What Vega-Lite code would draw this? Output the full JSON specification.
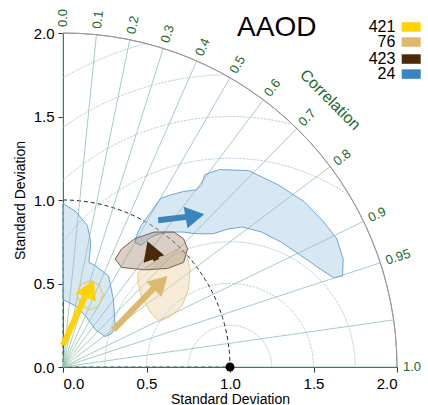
{
"$schema":"https://vega.github.io/schema/vega-lite/v6.json",
"width":334,"height":334,
"autosize":{"type":"none"},
"padding":{"left":63,"top":33,"right":31,"bottom":38},
"config":{"view":{"stroke":null},"font":"Liberation Sans","axis":{"zindex":1,"labelFontSize":15,"titleFontSize":14,"titleFontWeight":"normal","labelColor":"black","titleColor":"black","domainColor":"#333","tickColor":"#333","grid":false,"labelFont":"Liberation Sans","titleFont":"Liberation Sans"}},
"datasets":{
"blue1":[{"i":0,"x":0.468,"y":0.848},{"i":1,"x":0.527,"y":0.929},{"i":2,"x":0.585,"y":1.010},{"i":3,"x":0.644,"y":1.030},{"i":4,"x":0.722,"y":1.051},{"i":5,"x":0.800,"y":1.061},{"i":6,"x":0.829,"y":1.091},{"i":7,"x":0.849,"y":1.152},{"i":8,"x":0.937,"y":1.182},{"i":9,"x":1.112,"y":1.176},{"i":10,"x":1.288,"y":1.091},{"i":11,"x":1.444,"y":0.990},{"i":12,"x":1.561,"y":0.869},{"i":13,"x":1.639,"y":0.768},{"i":14,"x":1.678,"y":0.646},{"i":15,"x":1.674,"y":0.545},{"i":16,"x":1.620,"y":0.535},{"i":17,"x":1.542,"y":0.586},{"i":18,"x":1.425,"y":0.667},{"i":19,"x":1.308,"y":0.747},{"i":20,"x":1.190,"y":0.808},{"i":21,"x":1.073,"y":0.838},{"i":22,"x":0.995,"y":0.828},{"i":23,"x":0.898,"y":0.798},{"i":24,"x":0.800,"y":0.798},{"i":25,"x":0.722,"y":0.808},{"i":26,"x":0.605,"y":0.808},{"i":27,"x":0.527,"y":0.778},{"i":28,"x":0.468,"y":0.727},{"i":29,"x":0.429,"y":0.747},{"i":30,"x":0.449,"y":0.808}],
"blue2":[{"i":0,"x":0,"y":0.980},{"i":1,"x":0.078,"y":0.929},{"i":2,"x":0.146,"y":0.848},{"i":3,"x":0.166,"y":0.747},{"i":4,"x":0.156,"y":0.626},{"i":5,"x":0.195,"y":0.606},{"i":6,"x":0.273,"y":0.545},{"i":7,"x":0.302,"y":0.404},{"i":8,"x":0.312,"y":0.242},{"i":9,"x":0.293,"y":0.202},{"i":10,"x":0.254,"y":0.182},{"i":11,"x":0.195,"y":0.222},{"i":12,"x":0.137,"y":0.303},{"i":13,"x":0.078,"y":0.364},{"i":14,"x":0,"y":0.404}],
"brown":[{"i":0,"x":0.312,"y":0.646},{"i":1,"x":0.351,"y":0.707},{"i":2,"x":0.429,"y":0.768},{"i":3,"x":0.546,"y":0.808},{"i":4,"x":0.664,"y":0.808},{"i":5,"x":0.722,"y":0.768},{"i":6,"x":0.746,"y":0.707},{"i":7,"x":0.722,"y":0.626},{"i":8,"x":0.625,"y":0.590},{"i":9,"x":0.488,"y":0.582},{"i":10,"x":0.351,"y":0.596}],
"tan":[{"i":0,"x":0.449,"y":0.566},{"i":1,"x":0.546,"y":0.626},{"i":2,"x":0.683,"y":0.707},{"i":3,"x":0.742,"y":0.667},{"i":4,"x":0.761,"y":0.586},{"i":5,"x":0.751,"y":0.465},{"i":6,"x":0.712,"y":0.364},{"i":7,"x":0.644,"y":0.303},{"i":8,"x":0.576,"y":0.273},{"i":9,"x":0.527,"y":0.323},{"i":10,"x":0.468,"y":0.424},{"i":11,"x":0.449,"y":0.505}],
"yellow":[{"i":0,"x":0.082,"y":0.434},{"i":1,"x":0.107,"y":0.495},{"i":2,"x":0.160,"y":0.515},{"i":3,"x":0.215,"y":0.495},{"i":4,"x":0.240,"y":0.434},{"i":5,"x":0.215,"y":0.364},{"i":6,"x":0.160,"y":0.343},{"i":7,"x":0.107,"y":0.374}],
"corr":[{"r":"0.0","x0":0,"y0":0,"x":0,"y":2,"a":-90},{"r":"0.1","x0":0,"y0":0,"x":0.2,"y":1.990,"a":-84},{"r":"0.2","x0":0,"y0":0,"x":0.4,"y":1.960,"a":-78},{"r":"0.3","x0":0,"y0":0,"x":0.6,"y":1.908,"a":-73},{"r":"0.4","x0":0,"y0":0,"x":0.8,"y":1.833,"a":-66},{"r":"0.5","x0":0,"y0":0,"x":1.0,"y":1.732,"a":-60},{"r":"0.6","x0":0,"y0":0,"x":1.2,"y":1.6,"a":-53},{"r":"0.7","x0":0,"y0":0,"x":1.4,"y":1.428,"a":-46},{"r":"0.8","x0":0,"y0":0,"x":1.6,"y":1.2,"a":-37},{"r":"0.9","x0":0,"y0":0,"x":1.8,"y":0.872,"a":-26},{"r":"0.95","x0":0,"y0":0,"x":1.9,"y":0.624,"a":-18},{"r":"0.99","x0":0,"y0":0,"x":1.98,"y":0.282,"a":-8},{"r":"1.0","x0":0,"y0":0,"x":2,"y":0,"a":0}],
"rms":[{"r":0.25,"t1":-1.5708,"t2":1.5708},{"r":0.5,"t1":-1.5708,"t2":1.5708},{"r":0.75,"t1":-1.5708,"t2":1.5708},{"r":1.25,"t1":-0.927,"t2":0.613},{"r":1.5,"t1":-0.730,"t2":0.253},{"r":1.75,"t1":-0.609,"t2":-0.018},{"r":2.0,"t1":-0.524,"t2":-0.253}],
"arrows":[{"c":"#FFD200","x":0,"y":0.131,"o":0},{"c":"#FFD200","x":0.150,"y":0.463,"o":1},{"c":"#DDB96E","x":0.302,"y":0.222,"o":0},{"c":"#DDB96E","x":0.575,"y":0.505,"o":1},{"c":"#4A2A08","x":0.56,"y":0.64,"o":0},{"c":"#4A2A08","x":0.532,"y":0.70,"o":1},{"c":"#3A85C0","x":0.570,"y":0.879,"o":0},{"c":"#3A85C0","x":0.790,"y":0.905,"o":1}],
"heads":[{"c":"#FFD200","x":0.160,"y":0.47,"a":25},{"c":"#DDB96E","x":0.585,"y":0.505,"a":45},{"c":"#4A2A08","x":0.525,"y":0.70,"a":-20},{"c":"#3A85C0","x":0.79,"y":0.905,"a":80}],
"legend":[{"k":"421","c":"#FFD200","y":2.036},{"k":"76","c":"#DDB96E","y":1.946},{"k":"423","c":"#4A2A08","y":1.844},{"k":"24","c":"#3A85C0","y":1.754}]
},
"layer":[
{"data":{"name":"rms"},"mark":{"type":"arc","filled":false,"stroke":"#a9bfd6","strokeWidth":1,"strokeDash":[1,2.5]},
 "encoding":{"x":{"datum":1,"type":"quantitative","scale":{"domain":[0,2],"nice":false,"zero":false},"axis":{"values":[0,0.5,1,1.5,2],"format":".1f","title":"Standard Deviation","titlePadding":1,"labelPadding":4,"tickSize":5}},
 "y":{"datum":0,"type":"quantitative","scale":{"domain":[0,2],"nice":false,"zero":false},"axis":{"values":[0,0.5,1,1.5,2],"format":".1f","title":"Standard Deviation","titlePadding":6,"labelPadding":4,"tickSize":5}},
 "radius":{"field":"r","type":"quantitative","scale":{"type":"linear","domain":[0,2],"range":[0,334],"zero":true}},
 "radius2":{"field":"r"},
 "theta":{"field":"t1","type":"quantitative","scale":null},"theta2":{"field":"t2"}}},
{"data":{"values":[{"r":1,"t1":0,"t2":1.5708}]},"mark":{"type":"arc","filled":false,"stroke":"#222","strokeWidth":1,"strokeDash":[4,3]},
 "encoding":{"x":{"datum":0,"type":"quantitative"},"y":{"datum":0,"type":"quantitative"},"radius":{"field":"r","type":"quantitative","scale":{"type":"linear","domain":[0,2],"range":[0,334],"zero":true}},"theta":{"field":"t1","type":"quantitative","scale":null},"theta2":{"field":"t2"}}},
{"data":{"values":[{"r":2,"t1":0,"t2":1.5708}]},"mark":{"type":"arc","filled":false,"stroke":"#999","strokeWidth":1},
 "encoding":{"x":{"datum":0,"type":"quantitative"},"y":{"datum":0,"type":"quantitative"},"radius":{"field":"r","type":"quantitative","scale":{"type":"linear","domain":[0,2],"range":[0,334],"zero":true}},"radius2":{"field":"r"},"theta":{"field":"t1","type":"quantitative","scale":null},"theta2":{"field":"t2"}}},
{"data":{"name":"corr"},"mark":{"type":"rule","color":"#8fc1a9","strokeWidth":0.8},
 "encoding":{"x":{"field":"x0","type":"quantitative"},"y":{"field":"y0","type":"quantitative"},"x2":{"field":"x"},"y2":{"field":"y"}}},
{"data":{"name":"corr"},"transform":[{"filter":"datum.r != '0.99'"}],"mark":{"type":"text","color":"#1a6b2a","fontSize":13,"align":"left","baseline":"middle","clip":false,"radius":6},
 "encoding":{"x":{"field":"x","type":"quantitative"},"y":{"field":"y","type":"quantitative"},"text":{"field":"r"},"angle":{"field":"a","type":"quantitative","scale":null},"theta":{"field":"a","type":"quantitative","scale":{"type":"linear","domain":[-90,0],"range":[0,1.5708]}}}},
{"data":{"values":[{"x":1.6,"y":1.6,"t":"Correlation"}]},"mark":{"type":"text","color":"#1a6b2a","fontSize":16,"angle":45,"clip":false},
 "encoding":{"x":{"field":"x","type":"quantitative"},"y":{"field":"y","type":"quantitative"},"text":{"field":"t"}}},
{"data":{"name":"blue1"},"mark":{"type":"line","interpolate":"linear-closed","fill":"#9cc2e2","fillOpacity":0.4,"stroke":"#6fa6d6","strokeWidth":1},
 "encoding":{"x":{"field":"x","type":"quantitative"},"y":{"field":"y","type":"quantitative"},"order":{"field":"i"}}},
{"data":{"name":"blue2"},"mark":{"type":"line","interpolate":"linear-closed","fill":"#9cc2e2","fillOpacity":0.4,"stroke":"#6fa6d6","strokeWidth":1},
 "encoding":{"x":{"field":"x","type":"quantitative"},"y":{"field":"y","type":"quantitative"},"order":{"field":"i"}}},
{"data":{"name":"tan"},"mark":{"type":"line","interpolate":"linear-closed","fill":"#ecd3a6","fillOpacity":0.45,"stroke":"#ecc88e","strokeWidth":1},
 "encoding":{"x":{"field":"x","type":"quantitative"},"y":{"field":"y","type":"quantitative"},"order":{"field":"i"}}},
{"data":{"name":"brown"},"mark":{"type":"line","interpolate":"linear-closed","fill":"#a08872","fillOpacity":0.4,"stroke":"#7d6250","strokeWidth":1},
 "encoding":{"x":{"field":"x","type":"quantitative"},"y":{"field":"y","type":"quantitative"},"order":{"field":"i"}}},
{"data":{"name":"yellow"},"mark":{"type":"line","interpolate":"linear-closed","fill":"none","stroke":"#e6cc3a","strokeWidth":1},
 "encoding":{"x":{"field":"x","type":"quantitative"},"y":{"field":"y","type":"quantitative"},"order":{"field":"i"}}},
{"data":{"name":"arrows"},"mark":{"type":"line","strokeWidth":6,"strokeCap":"butt"},
 "encoding":{"x":{"field":"x","type":"quantitative"},"y":{"field":"y","type":"quantitative"},"order":{"field":"o"},"detail":{"field":"c"},"color":{"field":"c","type":"nominal","scale":null}}},
{"data":{"name":"heads"},"mark":{"type":"point","shape":"triangle-up","filled":true,"size":480,"opacity":1},
 "encoding":{"x":{"field":"x","type":"quantitative"},"y":{"field":"y","type":"quantitative"},"angle":{"field":"a","type":"quantitative","scale":null},"color":{"field":"c","type":"nominal","scale":null}}},
{"data":{"values":[{"x":1,"y":0}]},"mark":{"type":"point","filled":true,"color":"black","size":80,"opacity":1,"clip":false},
 "encoding":{"x":{"field":"x","type":"quantitative"},"y":{"field":"y","type":"quantitative"}}},
{"data":{"values":[{"x":1.28,"y":2.03,"t":"AAOD"}]},"mark":{"type":"text","fontSize":28,"color":"black","baseline":"middle","clip":false},
 "encoding":{"x":{"field":"x","type":"quantitative"},"y":{"field":"y","type":"quantitative"},"text":{"field":"t"}}},
{"data":{"name":"legend"},"mark":{"type":"text","fontSize":16,"color":"black","align":"right","baseline":"middle","clip":false},
 "encoding":{"x":{"datum":1.99,"type":"quantitative"},"y":{"field":"y","type":"quantitative"},"text":{"field":"k"}}},
{"data":{"name":"legend"},"mark":{"type":"point","shape":"M-1,-0.5H1V0.5H-1Z","filled":true,"size":361,"opacity":1,"clip":false},
 "encoding":{"x":{"datum":2.085,"type":"quantitative"},"y":{"field":"y","type":"quantitative"},"color":{"field":"c","type":"nominal","scale":null}}}
]
}
